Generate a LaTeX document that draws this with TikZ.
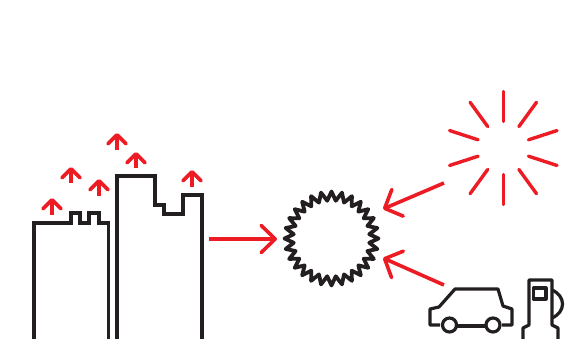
\documentclass[tikz,border=0pt]{standalone}
\usepackage{tikz}
\usetikzlibrary{arrows.meta,calc}
\definecolor{heatred}{HTML}{ED1C24}
\definecolor{inkblack}{HTML}{231F20}
\tikzset{
  outl/.style={draw=inkblack, line width=3.7pt, line join=miter},
  thinoutl/.style={draw=inkblack, line width=3.2pt, line join=round},
  ray/.style={draw=heatred, line width=3.4pt, line cap=round},
  upsig/.style={draw=heatred, line width=3.7pt,
    -{Straight Barb[length=9pt,width=18pt,round]}},
  flow/.style={draw=heatred, line width=3.6pt,
    -{Straight Barb[length=14pt,width=29pt,round]}},
}
\begin{document}
\begin{tikzpicture}[x=1pt,y=-1pt]
    \useasboundingbox (0,0) rectangle (576,338);
    % buildings
    \draw[outl] (34,340) -- (34,223) -- (71,223) -- (71,213) -- (80,213) -- (80,223)
      -- (89,223) -- (89,213) -- (99,213) -- (99,223) -- (108.5,223) -- (108.5,340);
    \draw[outl] (117,340) -- (117,176) -- (155,176) -- (155,205) -- (164,205)
      -- (164,214) -- (183,214) -- (183,195) -- (202,195) -- (202,340);
    % rising heat
    \foreach \x/\ytop/\ybot in {52/198/215,71/167/183,99/179/196,117/133/150,136/152/168,192/170/187}{
      \coordinate (hb) at (\x,\ybot);
      \coordinate (ht) at (\x,\ytop);
      \draw[upsig] (hb) -- (ht);
    }
    % dome
    \coordinate (dome) at (331.5,238.5);
    \begin{scope}[shift={(dome)}]
      \draw[outl,line width=3.8pt,line join=round] plot[domain=0:55,samples=56]
        ({\x/56*360}:{42.5+4.5*cos(\x*180)}) -- cycle;
    \end{scope}
    % arrows into and out of dome
    \coordinate (cityout) at (209,239);
    \coordinate (domein) at (277,239);
    \draw[flow,-{Straight Barb[length=14pt,width=27pt,round]}] (cityout) -- (domein);
    \coordinate (sunout) at (444,183);
    \coordinate (suntip) at (383,209);
    \draw[flow] (sunout) -- (suntip);
    \coordinate (carout) at (444,285);
    \coordinate (cartip) at (383,258);
    \draw[flow] (carout) -- (cartip);
    % sun
    \coordinate (sun) at (503.3,148);
    \foreach \a in {18,54,...,342}{
      \coordinate (ri) at ($(sun)+(\a:26.5)$);
      \coordinate (ro) at ($(sun)+(\a:56.5)$);
      \draw[ray] (ri) -- (ro);
    }
    % car
    \draw[thinoutl] (440,325) -- (430,325) -- (430,309) -- (439,307) -- (455,289)
      -- (498,289) -- (503,306) -- (512,309) -- (512,325) -- (502,325);
    \draw[thinoutl] (456,326) -- (486,326);
    \draw[thinoutl] (449.5,325) circle (7);
    \draw[thinoutl] (493,325) circle (7);
    % pump
    \draw[thinoutl] (523,340) -- (523,328) -- (529,325) -- (529,280)
      -- (552,280) -- (552,325) -- (558,328) -- (558,340);
    \draw[thinoutl] (533.5,288) rectangle (546,299);
    \draw[thinoutl] (552,290) .. controls (566,296) and (566,312) .. (552,318);
  \end{tikzpicture}
\end{document}
